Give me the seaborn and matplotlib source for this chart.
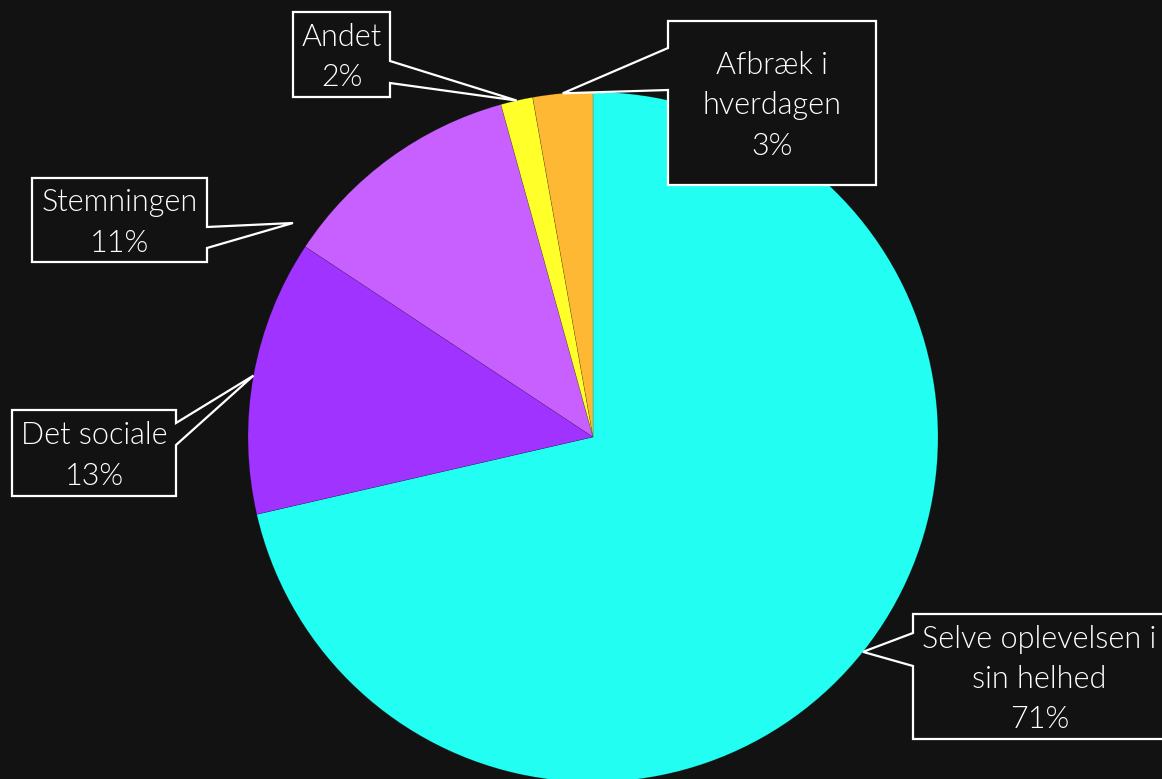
import textwrap
import matplotlib
matplotlib.use("Agg")
import matplotlib.pyplot as plt
from matplotlib.patches import Polygon
import numpy as np
import seaborn as sns

# ---- data ----
categories = ["Selve oplevelsen i sin helhed", "Det sociale", "Stemningen", "Andet", "Afbræk i hverdagen"]
shares = [71.4, 12.9, 11.4, 1.5, 2.8]
slice_colors = ["#22FFF2", "#A033FF", "#C860FF", "#FFFF2A", "#FFB833"]

# ---- layout (pixels) ----
W, H = 1162, 779
CX, CY, R = 593, 437, 345
BG = "#121212"
wrap_width = [18, 20, 20, 20, 9]
# box (x0, y0, x1, y1), pointer side, pointer base (ya, yb)
boxes = [
    ((913, 614, 1166, 739), "left", (633, 666)),
    ((12, 410, 176, 496), "right", (423, 445)),
    ((32, 178, 207, 262), "right", (227, 248)),
    ((293, 12, 390, 97), "right", (61, 83)),
    ((668, 21, 876, 185), "left", (48, 90)),
]
tip_override = {2: (293, 223)}

sns.set_style("dark")
plt.rcParams["font.family"] = ["Lato", "DejaVu Sans"]

fig = plt.figure(figsize=(W / 100, H / 100), dpi=100, facecolor=BG)
ax = fig.add_axes([0, 0, 1, 1])
ax.set_facecolor(BG)

palette = sns.color_palette(slice_colors)
wedges, _ = ax.pie(shares, colors=palette, startangle=90, counterclock=False,
                   radius=1, center=(0, 0),
                   wedgeprops=dict(linewidth=0.4, edgecolor="#00000040"))

ax.set_xlim(-CX / R, (W - CX) / R)
ax.set_ylim(-(H - CY) / R, CY / R)
ax.set_aspect("equal")
ax.axis("off")


def p2d(x, y):
    return ((x - CX) / R, (CY - y) / R)


for i, (w, name, v) in enumerate(zip(wedges, categories, shares)):
    (x0, y0, x1, y1), side, (ba, bb) = boxes[i]
    if i in tip_override:
        tip = p2d(*tip_override[i])
    else:
        mid = np.deg2rad((w.theta1 + w.theta2) / 2)
        tip = (np.cos(mid) * w.r, np.sin(mid) * w.r)
    if side == "right":
        pts = [(x0, y0), (x1, y0), (x1, ba), None, (x1, bb), (x1, y1), (x0, y1)]
    else:
        pts = [(x0, y0), (x1, y0), (x1, y1), (x0, y1), (x0, bb), None, (x0, ba)]
    verts = [tip if p is None else p2d(*p) for p in pts]
    ax.add_patch(Polygon(verts, closed=True, facecolor=BG, edgecolor="white",
                         linewidth=1.6, joinstyle="miter", zorder=5, clip_on=False))
    label = textwrap.fill(name, wrap_width[i]) + f"\n{round(v)}%"
    cx, cy = p2d((x0 + x1) / 2, (y0 + y1) / 2 + 3)
    ax.text(cx, cy, label, ha="center", va="center", multialignment="center",
            color="white", fontsize=22, fontweight=300, linespacing=1.5, zorder=6)

fig.savefig("out.png", dpi=100, facecolor=BG)
